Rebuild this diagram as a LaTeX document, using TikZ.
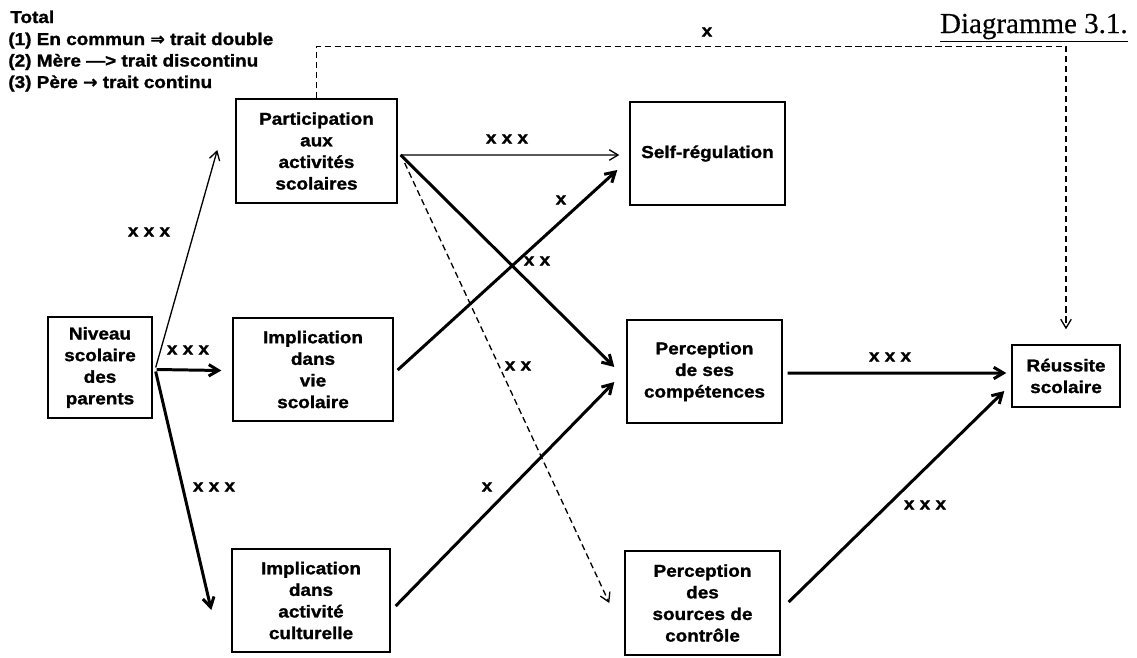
\documentclass[tikz,border=0pt]{standalone}
\usepackage{fontspec}
\usetikzlibrary{arrows.meta}
\newfontfamily\lbl[FakeStretch=1.1,FakeBold=1.3]{Liberation Sans}
\newfontfamily\dvs[FakeBold=1]{DejaVu Sans}
\newfontfamily\ttlfont[FakeBold=0.4]{Liberation Serif}
\begin{document}
\begin{tikzpicture}[x=0.02cm,y=-0.02cm,
  box/.style={draw,line width=0.8pt,inner sep=0pt,align=center,
    font=\lbl\bfseries\fontsize{9.8pt}{12.3pt}\selectfont},
  lab/.style={inner sep=0pt,font=\lbl\bfseries\fontsize{9.8pt}{12pt}\selectfont},
  thinarr/.style={line width=0.75pt,-{Straight Barb[length=5pt,width=6pt]}},
  thickarr/.style={line width=1.7pt,-{Straight Barb[length=5.5pt,width=6.5pt]}},
  dasharr/.style={thinarr,dash pattern=on 3.5pt off 2.2pt}]
\useasboundingbox (0,0) rectangle (1137,657);
\fill[white] (0,0) rectangle (1137,657);

% title and legend
\node[anchor=base east,inner sep=0pt,font=\ttlfont\fontsize{16.5pt}{18pt}\selectfont] (ttl) at (1128,33) {\underline{Diagramme 3.1.}};
\node[lab,anchor=base west] (leg0) at (10,23) {Total};
\node[lab,anchor=base west] (leg1) at (8,45) {(1) En commun {\dvs\bfseries ⇒} trait double};
\node[lab,anchor=base west] (leg2) at (8,66.5) {(2) Mère —> trait discontinu};
\node[lab,anchor=base west] (leg3) at (8,88) {(3) Père {\dvs\bfseries →} trait continu};

% boxes
\node[box,minimum width=2.08cm,minimum height=2.02cm] (niv) at (100,367.5) {Niveau\\scolaire\\des\\parents};
\node[box,minimum width=3.22cm,minimum height=2.08cm] (part) at (316.5,151) {Participation\\aux\\activités\\scolaires};
\node[box,minimum width=3.2cm,minimum height=2.06cm] (vie) at (313,369.5) {Implication\\dans\\vie\\scolaire};
\node[box,minimum width=3.16cm,minimum height=2.06cm] (cult) at (311,600.5) {Implication\\dans\\activité\\culturelle};
\node[box,minimum width=3.1cm,minimum height=2.06cm] (self) at (707.5,153.5) {Self-régulation};
\node[box,minimum width=3.1cm,minimum height=2.06cm] (comp) at (704.5,371.5) {Perception\\de ses\\compétences};
\node[box,minimum width=3.1cm,minimum height=2.08cm] (src) at (702.5,603) {Perception\\des\\sources de\\contrôle};
\node[box,minimum width=2.16cm,minimum height=1.24cm] (reu) at (1066,376) {Réussite\\scolaire};

% connectors
\draw[thinarr] ([shift={(3,0)}]niv.east) -- ([shift={(-18,-1)}]part.west);
\draw[thickarr] ([shift={(4,2)}]niv.east) -- ([shift={(-11,1)}]vie.west);
\draw[thickarr] ([shift={(3,4)}]niv.east) -- ([shift={(-20,9.5)}]cult.west);
\draw[thinarr] ([shift={(3,4)}]part.east) -- ([shift={(-10,1.5)}]self.west);
\draw[thickarr] ([shift={(3,4)}]part.east) -- ([shift={(-12,-4.5)}]comp.west);
\draw[thickarr] ([shift={(4,0.5)}]vie.east) -- ([shift={(-12,16.5)}]self.west);
\draw[dasharr] ([shift={(7,12)}]part.east) -- ([shift={(-15,0)}]src.west);
\draw[thickarr] ([shift={(5,5.5)}]cult.east) -- ([shift={(-12,10.5)}]comp.west);
\draw[thickarr] ([shift={(5,1.5)}]comp.east) -- ([shift={(-5,-3)}]reu.west);
\draw[thickarr] ([shift={(8,-1)}]src.east) -- ([shift={(-7,15)}]reu.west);
\draw[dasharr] (part.north) -- ++(0,-52) -| ([shift={(0,-15)}]reu.north);

% labels
\node[lab] (l1) at (149,232) {x x x};
\node[lab] (l2) at (188,350) {x x x};
\node[lab] (l3) at (214,487) {x x x};
\node[lab] (l4) at (507,139) {x x x};
\node[lab] (l5) at (561,200) {x};
\node[lab] (l6) at (537,261) {x x};
\node[lab] (l7) at (518,366) {x x};
\node[lab] (l8) at (487,487) {x};
\node[lab] (l9) at (890,357) {x x x};
\node[lab] (l10) at (925,505) {x x x};
\node[lab] (l11) at (707,32) {x};
\end{tikzpicture}
\end{document}
